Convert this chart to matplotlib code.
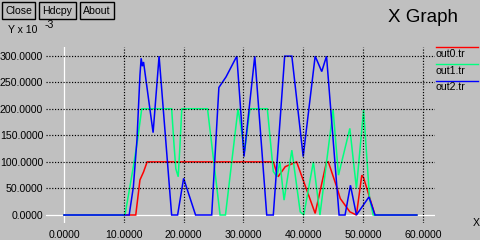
import matplotlib
matplotlib.use("Agg")
import matplotlib.pyplot as plt
from matplotlib.patches import Rectangle
from matplotlib.lines import Line2D

# ---- data ----
out0_x = [0, 12.0, 12.7, 13.3, 13.9, 35.0, 35.8, 37.0, 38.9, 42.0, 43.9, 44.2, 45.6, 46.2, 47.8, 48.9, 49.8, 50.1, 52.0, 59.0]
out0_y = [0, 0, 66, 81, 100, 100, 72, 91, 100, 3, 100, 100, 53, 31, 6, 0, 75, 70, 0, 0]

out1_x = [0, 10.2, 11.6, 12.3, 13.0, 18.0, 18.4, 18.7, 19.1, 19.4, 19.7, 24.0, 26.1, 27.0, 29.1, 30.2, 31.1,
          34.0, 35.0, 35.6, 36.1, 36.8, 38.1, 39.5, 40.1, 41.7, 42.8, 45.0, 45.9, 47.8, 48.9, 50.1, 51.1, 51.7, 59.0]
out1_y = [0, 0, 91, 141, 200, 200, 132, 87, 72, 132, 200, 200, 0, 0, 200, 120, 200,
          200, 82, 72, 100, 28, 122, 6, 0, 100, 0, 198, 75, 163, 50, 198, 31, 0, 0]

out2_x = [0, 10.9, 11.6, 12.2, 12.7, 12.9, 13.1, 13.3, 14.9, 15.9, 18.0, 19.0, 20.0, 22.0, 24.7, 25.9, 27.1,
          28.9, 30.1, 31.9, 33.9, 35.0, 36.9, 38.1, 40.0, 42.0, 43.1, 43.9, 46.0, 47.0, 47.9, 48.9, 51.0, 52.0, 59.0]
out2_y = [0, 0, 53, 141, 263, 295, 280, 288, 155, 299, 0, 0, 69, 0, 0, 240, 260,
          299, 110, 299, 0, 0, 299, 299, 110, 299, 270, 299, 0, 0, 56, 0, 34, 0, 0]

series = [("out0.tr", out0_x, out0_y, "#ff0000"),
          ("out1.tr", out1_x, out1_y, "#00ff7f"),
          ("out2.tr", out2_x, out2_y, "#0000ff")]

x_ticks = [0, 10, 20, 30, 40, 50, 60]
y_ticks = [0, 50, 100, 150, 200, 250, 300]

# ---- figure ----
W, H = 480, 240
BG = "#c0c0c0"
plt.rcParams['font.family'] = ['Liberation Sans', 'DejaVu Sans']
fig = plt.figure(figsize=(W / 100, H / 100), dpi=100, facecolor=BG)

def fx(px):
    return px / W

def fy(py):
    return 1 - py / H

L, R, T, B = 46, 435, 47, 223
ax = fig.add_axes([fx(L), fy(B), fx(R - L), (B - T) / H])
ax.set_facecolor(BG)
ax.set_xlim((L - 64) / 5.98, (R - 64) / 5.98)
ax.set_ylim((215 - B) / 0.5313, (215 - T) / 0.5313)
for s in ax.spines.values():
    s.set_visible(False)

# grid
for xv in x_ticks:
    if xv == 0:
        ax.axvline(xv, color="white", lw=0.9, zorder=1)
    else:
        ax.axvline(xv, color="black", lw=0.85, ls=(0, (1, 1.4)), zorder=3)
for yv in y_ticks:
    if yv == 0:
        ax.axhline(yv, color="white", lw=0.9, zorder=1)
    else:
        ax.axhline(yv, color="black", lw=0.85, ls=(0, (1, 1.4)), zorder=3)

for name, xs, ys, c in series:
    ax.plot(xs, ys, color=c, lw=1.1, zorder=2, solid_joinstyle="miter")

ax.set_xticks(x_ticks)
ax.set_xticklabels([f"{v:.4f}" for v in x_ticks])
ax.set_yticks(y_ticks)
ax.set_yticklabels([f"{v:.4f}" for v in y_ticks])
ax.tick_params(length=0, labelsize=7.6, colors="black")
ax.tick_params(axis="x", pad=5)
ax.tick_params(axis="y", pad=2)

# axis labels
fig.text(fx(8), fy(30), "Y x 10", fontsize=7.6, ha="left", va="center")
fig.text(fx(45), fy(25), "-3", fontsize=7.6, ha="left", va="center")
fig.text(fx(476), fy(223), "X", fontsize=7.6, ha="center", va="center")

# title
fig.text(fx(423), fy(17), "X Graph", fontsize=13.5, ha="center", va="center")

# buttons
for label, x0, x1 in [("Close", 2, 35), ("Hdcpy", 38.5, 76), ("About", 79.5, 114)]:
    fig.patches.append(Rectangle((fx(x0), fy(19)), fx(x1 - x0), 17 / H,
                                 transform=fig.transFigure, fill=False,
                                 edgecolor="black", lw=1.0))
    fig.text(fx((x0 + x1) / 2), fy(10.5), label, fontsize=7.6, ha="center", va="center")

# legend
leg_y = [(46.7, 54), (64, 71), (81, 87.5)]
for (name, xs, ys, c), (ly, ty) in zip(series, leg_y):
    fig.lines.append(Line2D([fx(436), fx(478)], [fy(ly), fy(ly)], color=c, lw=1.0,
                            transform=fig.transFigure))
    fig.text(fx(436), fy(ty), name, fontsize=7.6, ha="left", va="center")

fig.savefig("out.png", dpi=100, facecolor=BG)
